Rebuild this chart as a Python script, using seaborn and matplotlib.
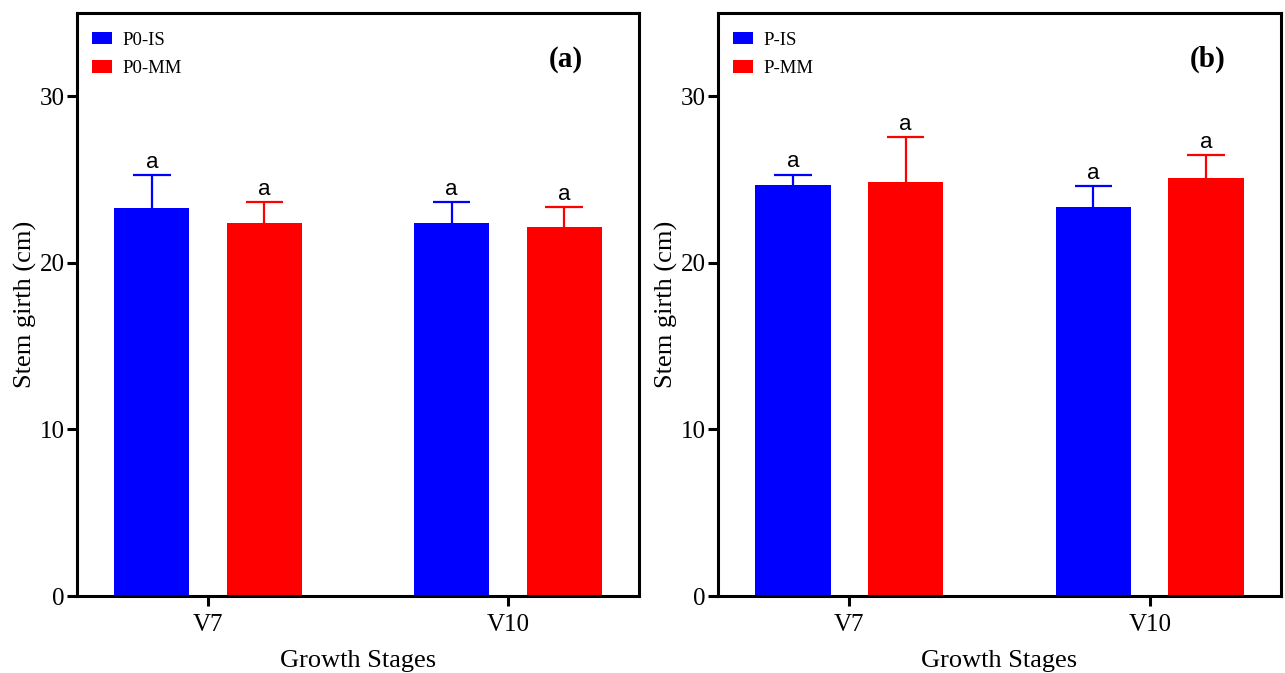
import pandas as pd
import seaborn as sns
import matplotlib.pyplot as plt
from matplotlib.patches import Patch

stages = ["V7", "V10"]

# panel (a)
groups_a = ["P0-IS", "P0-MM"]
mean_a = {"P0-IS": [23.3, 22.4], "P0-MM": [22.4, 22.15]}
err_a = {"P0-IS": [1.97, 1.27], "P0-MM": [1.27, 1.22]}

# panel (b)
groups_b = ["P-IS", "P-MM"]
mean_b = {"P-IS": [24.7, 23.35], "P-MM": [24.85, 25.1]}
err_b = {"P-IS": [0.6, 1.26], "P-MM": [2.7, 1.36]}

letters = ["a", "a", "a", "a"]
colors = ["#0000ff", "#ff0000"]

sns.set_theme(style="white")
plt.rcParams["font.family"] = ["Liberation Serif", "DejaVu Serif"]
plt.rcParams["text.color"] = "black"
plt.rcParams["axes.labelcolor"] = "black"


def to_long(groups, means):
    rows = []
    for g in groups:
        for s, v in zip(stages, means[g]):
            rows.append({"stage": s, "group": g, "girth": v})
    return pd.DataFrame(rows)


def draw_panel(ax, groups, means, errs, tag):
    df = to_long(groups, means)
    sns.barplot(data=df, x="stage", y="girth", hue="group", order=stages,
                hue_order=groups, palette=colors, width=0.75, gap=0.333,
                errorbar=None, saturation=1, linewidth=0, ax=ax, legend=False)

    # bars come in hue order, each over the stages; one-sided error bars on top
    bars = [p for p in ax.patches if p.get_height() > 0]
    k = 0
    for gi, g in enumerate(groups):
        for si in range(len(stages)):
            p = bars[k]
            xc = p.get_x() + p.get_width() / 2
            half = p.get_width() / 4
            top = p.get_height()
            e = errs[g][si]
            ax.vlines(xc, top, top + e, color=colors[gi], lw=1.6, zorder=1)
            ax.hlines(top + e, xc - half, xc + half, color=colors[gi], lw=1.6, zorder=1)
            ax.annotate(letters[k], (xc, top + e), xytext=(0, 1.5),
                        textcoords="offset points", ha="center", va="bottom",
                        fontsize=16, family="Liberation Sans", color="black")
            k += 1

    ax.set_ylim(0, 35)
    ax.set_xlim(-0.437, 1.437)
    ax.set_yticks([0, 10, 20, 30])
    ax.set_xlabel("Growth Stages", fontsize=19, labelpad=10)
    ax.set_ylabel("Stem girth (cm)", fontsize=19, labelpad=2)
    ax.tick_params(axis="both", labelsize=18, length=7, width=2.2,
                   direction="out", left=True, bottom=True, colors="black")
    ax.tick_params(axis="y", pad=2)
    ax.tick_params(axis="x", pad=6)
    for sp in ax.spines.values():
        sp.set_linewidth(2.2)
        sp.set_color("black")

    handles = [Patch(facecolor=c, edgecolor="none") for c in colors]
    ax.legend(handles, groups, loc="upper left", bbox_to_anchor=(0.027, 0.968),
              frameon=False, fontsize=13.5, handlelength=1.07, handleheight=0.64,
              labelspacing=0.62, handletextpad=0.53, borderaxespad=0, borderpad=0,
              labelcolor="black")
    ax.text(0.87, 0.921, tag, transform=ax.transAxes, ha="center", va="center",
            fontsize=21, fontweight="bold", color="black")


fig = plt.figure(figsize=(12.85, 6.73), dpi=100)
ax1 = fig.add_axes([0.0599, 0.1144, 0.4374, 0.8663])
ax2 = fig.add_axes([0.5588, 0.1144, 0.4381, 0.8663])

draw_panel(ax1, groups_a, mean_a, err_a, "(a)")
draw_panel(ax2, groups_b, mean_b, err_b, "(b)")

fig.savefig("out.png", dpi=100)
